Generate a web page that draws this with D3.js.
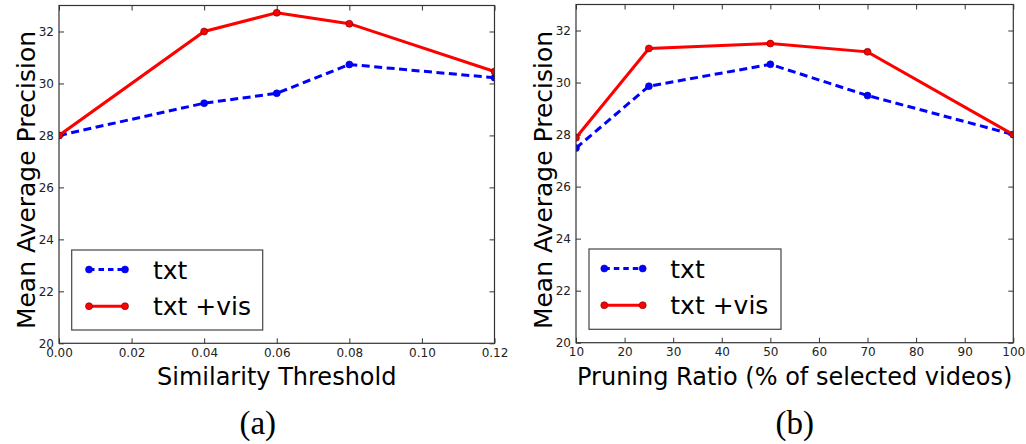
<!DOCTYPE html>
<html lang="en">
<head>
    <meta charset="UTF-8">
    <style>
        body { margin: 0; background: #fff; }
        svg { display: block; font-family: "DejaVu Sans", sans-serif; }
        .axis path { display: none; }
        .axis line { stroke: #333; }
        .axis text { fill: #222; font-size: 12px; font-family: "DejaVu Sans", sans-serif; }
        .frame { fill: none; stroke: #333; stroke-width: 1.2px; }
        .line { fill: none; stroke-width: 3px; }
    </style>
</head>
<body>
    <svg width="1026" height="444"></svg>
    <script src="https://cdn.jsdelivr.net/npm/d3@7"></script>
    <script>

        // (a) similarity threshold
        var thresholds = [0, 0.04, 0.06, 0.08, 0.12];
        var txtA = [28.0, 29.24, 29.62, 30.73, 30.22];
        var txtVisA = [28.0, 32.0, 32.72, 32.30, 30.46];
        var thresholdTicks = [0, 0.02, 0.04, 0.06, 0.08, 0.10, 0.12];

        // (b) pruning ratio
        var ratios = [10, 25, 50, 70, 100];
        var txtB = [27.48, 29.86, 30.70, 29.50, 28.0];
        var txtVisB = [27.88, 31.31, 31.50, 31.18, 28.0];
        var ratioTicks = [10, 20, 30, 40, 50, 60, 70, 80, 90, 100];

        var mapTicks = [20, 22, 24, 26, 28, 30, 32];
        var seriesNames = ["txt", "txt +vis"];

        var svg = d3.select("svg");

        var panels = [
            {id: "a", xs: thresholds, series: [txtA, txtVisA], xDomain: [0, 0.12], xTicks: thresholdTicks, fmt: d3.format(".2f"),
             left: 59, right: 494.5, top: 5.5, bottom: 343.3, xLabel: "Similarity Threshold", caption: "(a)",
             legend: {x0: 71.7, x1: 262.7, y0: 250, y1: 330, l0: 89, l1: 125, tx: 153}},
            {id: "b", xs: ratios, series: [txtB, txtVisB], xDomain: [10, 100], xTicks: ratioTicks, fmt: d3.format("d"),
             left: 576, right: 1013.3, top: 4.5, bottom: 342.7, xLabel: "Pruning Ratio (% of selected videos)", caption: "(b)",
             legend: {x0: 589, x1: 781, y0: 249, y1: 329.3, l0: 604.3, l1: 642.7, tx: 670.3}}
        ];

        var styles = [
            {color: "#0000ff", dash: "8,4.5", edge: "#0000cc"},
            {color: "#ff0000", dash: null, edge: "#660000"}
        ];

        panels.forEach(function(p) {
            var x = d3.scaleLinear().domain(p.xDomain).range([p.left, p.right]);
            var y = d3.scaleLinear().domain([20, 33]).range([p.bottom, p.top]);
            var g = svg.append("g");

            g.append("clipPath").attr("id", "clip-" + p.id)
                .append("rect")
                .attr("x", p.left).attr("y", p.top)
                .attr("width", p.right - p.left).attr("height", p.bottom - p.top);

            // axes, ticks pointing inward
            g.append("g").attr("class", "axis")
                .attr("transform", "translate(0," + p.bottom + ")")
                .call(d3.axisBottom(x).tickValues(p.xTicks).tickFormat(p.fmt).tickSizeInner(-5).tickSizeOuter(0).tickPadding(5));
            g.append("g").attr("class", "axis")
                .attr("transform", "translate(0," + p.top + ")")
                .call(d3.axisTop(x).tickValues(p.xTicks).tickFormat("").tickSizeInner(-5).tickSizeOuter(0));
            g.append("g").attr("class", "axis")
                .attr("transform", "translate(" + p.left + ",0)")
                .call(d3.axisLeft(y).tickValues(mapTicks).tickFormat(d3.format("d")).tickSizeInner(-5).tickSizeOuter(0).tickPadding(5));
            g.append("g").attr("class", "axis")
                .attr("transform", "translate(" + p.right + ",0)")
                .call(d3.axisRight(y).tickValues(mapTicks).tickFormat("").tickSizeInner(-5).tickSizeOuter(0));

            var line = d3.line()
                .x(function(d) { return x(d[0]); })
                .y(function(d) { return y(d[1]); });

            var plot = g.append("g").attr("clip-path", "url(#clip-" + p.id + ")");
            p.series.forEach(function(vals, i) {
                var pts = p.xs.map(function(v, j) { return [v, vals[j]]; });
                var s = styles[i];
                plot.append("path")
                    .attr("class", "line")
                    .attr("d", line(pts))
                    .attr("stroke", s.color)
                    .attr("stroke-dasharray", s.dash);
                plot.selectAll(null).data(pts).enter().append("circle")
                    .attr("cx", function(d) { return x(d[0]); })
                    .attr("cy", function(d) { return y(d[1]); })
                    .attr("r", 3.5)
                    .attr("fill", s.color)
                    .attr("stroke", s.edge)
                    .attr("stroke-width", 0.6);
            });

            g.append("rect").attr("class", "frame")
                .attr("x", p.left).attr("y", p.top)
                .attr("width", p.right - p.left).attr("height", p.bottom - p.top);

            // legend
            var L = p.legend;
            var leg = g.append("g");
            leg.append("rect")
                .attr("x", L.x0).attr("y", L.y0)
                .attr("width", L.x1 - L.x0).attr("height", L.y1 - L.y0)
                .attr("fill", "#fff").attr("stroke", "#444").attr("stroke-width", 1.2);
            seriesNames.forEach(function(name, i) {
                var ly = L.y0 + 19.5 + i * 36.7;
                var s = styles[i];
                leg.append("line")
                    .attr("x1", L.l0).attr("x2", L.l1).attr("y1", ly).attr("y2", ly)
                    .attr("stroke", s.color).attr("stroke-width", 3)
                    .attr("stroke-dasharray", s.dash ? "5.5,4" : null);
                [L.l0, L.l1].forEach(function(cx) {
                    leg.append("circle").attr("cx", cx).attr("cy", ly).attr("r", 3.5)
                        .attr("fill", s.color).attr("stroke", s.edge).attr("stroke-width", 0.6);
                });
                leg.append("text")
                    .attr("x", L.tx).attr("y", ly + 9)
                    .style("font-size", "25px")
                    .attr("fill", "#000")
                    .text(name);
            });

            // labels
            g.append("text")
                .attr("x", (p.left + p.right) / 2).attr("y", 385)
                .attr("text-anchor", "middle")
                .style("font-size", "24px")
                .text(p.xLabel);
            g.append("text")
                .attr("transform", "translate(" + (p.left - 24.3) + ",180) rotate(-90)")
                .attr("text-anchor", "middle")
                .style("font-size", "25px")
                .text("Mean Average Precision");
            g.append("text")
                .attr("x", (p.left + p.right) / 2 + (p.id === "a" ? -19 : 0)).attr("y", 433.5)
                .attr("text-anchor", "middle")
                .style("font-family", "'Liberation Serif', serif")
                .style("font-size", "33px")
                .text(p.caption);
        });
    </script>
</body>
</html>
